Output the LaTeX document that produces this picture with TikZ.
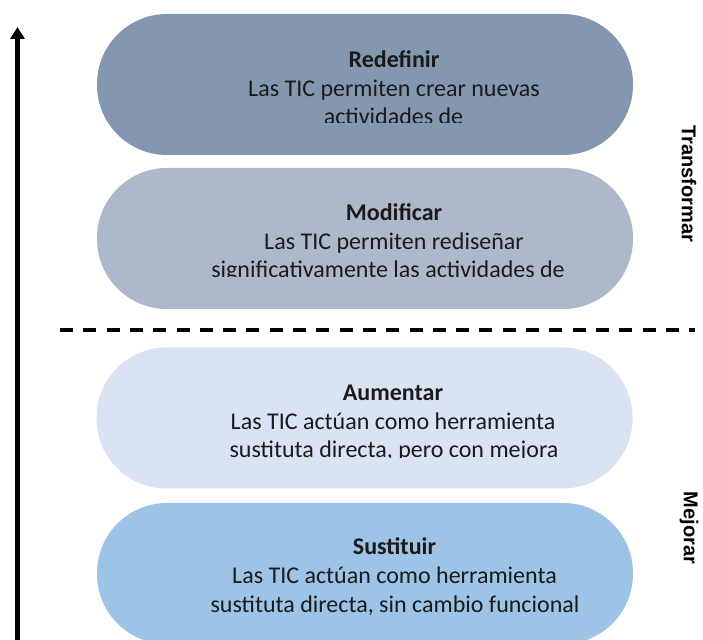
\documentclass[tikz,border=0pt]{standalone}
\usepackage{fontspec}
\setmainfont{Carlito}
\newfontfamily\sidefont{Liberation Sans}
\usetikzlibrary{arrows.meta}
\definecolor{cRed}{HTML}{8497B0}
\definecolor{cMod}{HTML}{ADB9CA}
\definecolor{cAum}{HTML}{DAE3F3}
\definecolor{cSus}{HTML}{9DC3E6}
\definecolor{txtc}{HTML}{1A1A1A}
\begin{document}
\begin{tikzpicture}[x=1pt,y=1pt,
  pill/.style={rectangle, rounded corners=70pt, minimum width=536pt, minimum height=141pt, inner sep=0pt, draw=none},
  line/.style={font=\fontsize{24}{29}\selectfont, anchor=base, inner sep=0pt, text=txtc},
  ttl/.style={line, font=\fontsize{24}{29}\selectfont\bfseries},
  side/.style={font={\sidefont\fontsize{20}{24}\selectfont\bfseries}, rotate=-90, inner sep=0pt, text=black}]
\clip (0,0) rectangle (703,639);
\fill[white] (0,0) rectangle (703,639);
% pills
\node[pill, fill=cRed] (redef) at (365,554.5) {};
\node[pill, fill=cMod] (modif) at (365,400.5) {};
\node[pill, fill=cAum] (aumen) at (364.5,221) {};
\node[pill, fill=cSus] (susti) at (365,65.5) {};
% texts
\begin{scope}
\clip (97,516) rectangle (633,625);
\node[ttl] (t1a) at (394,571) {Redefinir};
\node[line] (t1b) at (394,542.5) {Las TIC permiten crear nuevas};
\node[line] (t1c) at (393.5,514) {actividades de};
\end{scope}
\begin{scope}
\clip (97,362) rectangle (633,471);
\node[ttl] (t2a) at (394,418) {Modificar};
\node[line] (t2b) at (394,389.5) {Las TIC permiten rediseñar};
\node[line] (t2c) at (388,361) {significativamente las actividades de};
\end{scope}
\begin{scope}
\clip (96,181) rectangle (633,291);
\node[ttl] (t3a) at (393,238) {Aumentar};
\node[line] (t3b) at (393,209.5) {Las TIC actúan como herramienta};
\node[line] (t3c) at (394,181) {sustituta directa, pero con mejora};
\end{scope}
\begin{scope}
\clip (97,25) rectangle (633,136);
\node[ttl] (t4a) at (394.5,84) {Sustituir};
\node[line] (t4b) at (394.5,55.5) {Las TIC actúan como herramienta};
\node[line] (t4c) at (395,27) {sustituta directa, sin cambio funcional};
\end{scope}
% side labels
\node[side] (transf) at (689,455) {Transformar};
\node[side] (mejor) at (689,111) {Mejorar};
% dashed separator
\coordinate (dashL) at (60,309);
\coordinate (dashR) at (695,309);
\draw[line width=4pt, dash pattern=on 13pt off 10.3pt] (dashL) -- (dashR);
% arrow
\coordinate (arrBot) at (17.5,-5);
\coordinate (arrTop) at (17.5,612);
\draw[line width=4.5pt, -{Triangle[length=12pt,width=14pt]}] (arrBot) -- (arrTop);
\end{tikzpicture}
\end{document}
